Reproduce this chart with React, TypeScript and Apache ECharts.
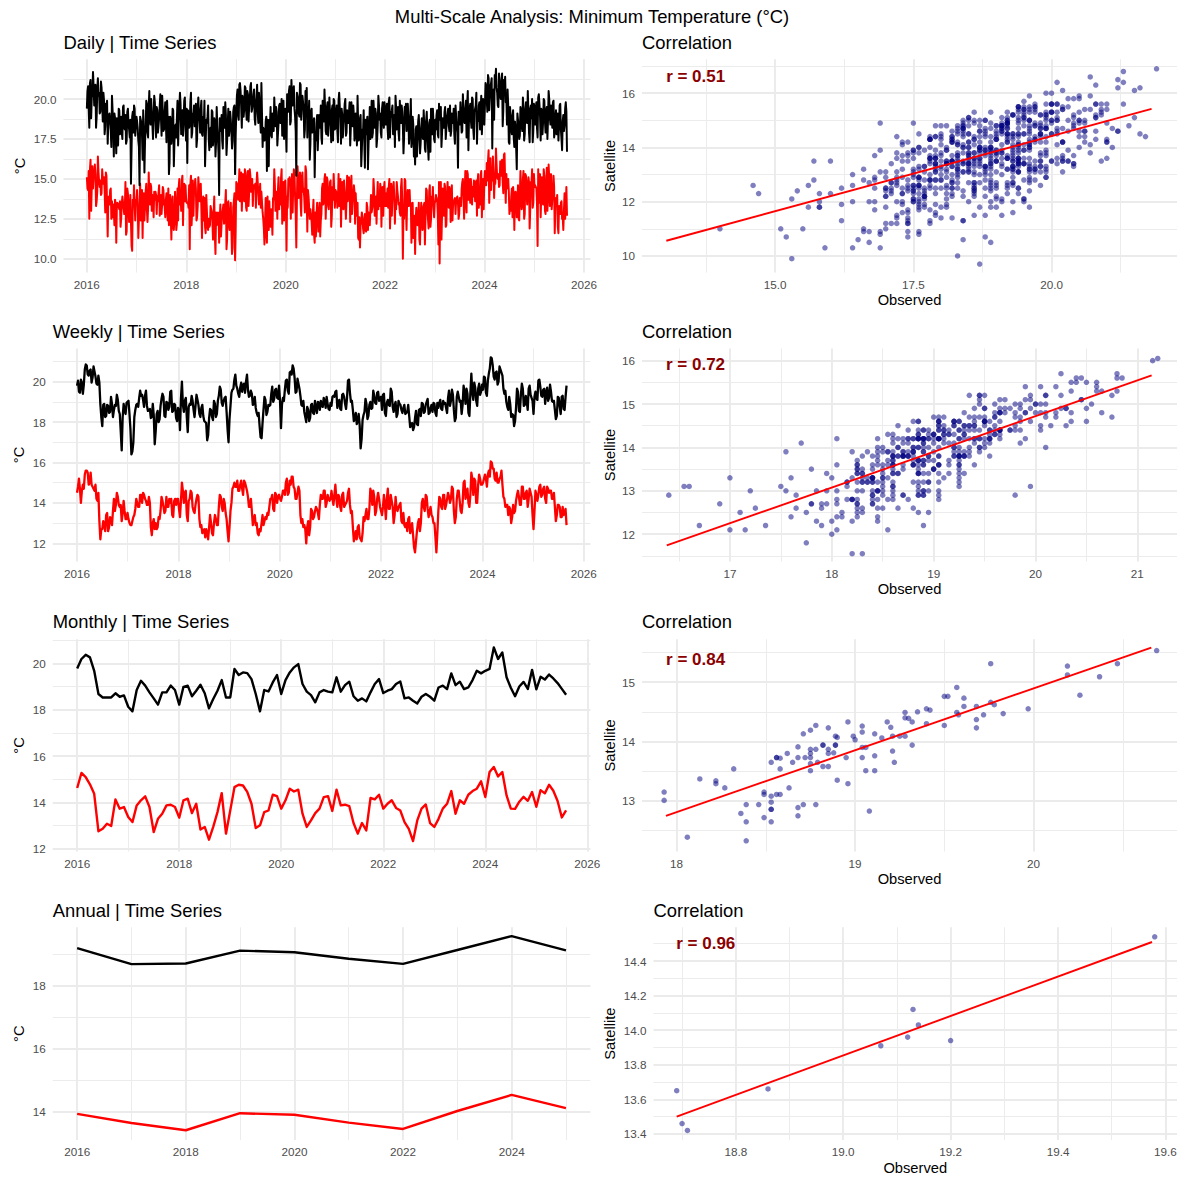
import React, { useEffect, useRef } from "react";
import * as echarts from "echarts";

// ---------------- DATA ----------------
// Daily series: values on days 0, 9, 18, ... after 2016-01-01 ...
const dailyStepDays = 9;
const dailyObserved = [
  19.4, 20.8, 18.2, 21.2, 20.1, 21.7, 19.6, 20.9, 18.9, 21.3, 20.4, 19.2, 20.7, 18.6, 19.9, 18.3, 19.5, 17.2, 19.0, 18.6, 17.0, 19.3, 16.4, 18.8, 16.6, 18.2, 19.4, 17.8, 18.9, 17.5, 19.6, 18.1, 17.2, 19.2, 18.4, 17.6, 14.7, 18.9, 17.9, 19.4, 18.3,
  18.6, 17.4, 14.6, 18.9, 17.8, 19.3, 15.4, 18.2, 19.7, 17.6, 20.5, 18.4, 19.1, 17.5, 20.2, 18.7, 19.5, 17.9, 18.8, 20.3, 17.7, 19.2, 18.1, 19.8, 17.3, 18.6, 15.3, 18.9, 17.2, 19.4, 15.8, 18.3, 17.6, 19.9, 18.5, 20.4, 17.8, 19.3, 18.7, 20.1, 17.4,
  16.0, 19.2, 18.4, 20.4, 17.9, 19.0, 18.3, 19.7, 17.5, 20.1, 18.6, 19.4, 17.8, 18.9, 19.9, 17.3, 18.5, 19.6, 16.8, 18.2, 19.3, 17.1, 18.8, 16.4, 19.5, 17.6, 14.0, 18.1, 19.0, 16.9, 18.6, 19.8, 16.5, 18.4, 17.7, 19.2, 18.0, 17.4, 19.5, 15.3,
  19.1, 20.6, 18.7, 21.0, 19.5, 20.2, 18.9, 20.8, 19.3, 20.5, 18.6, 19.9, 21.0, 19.4, 20.3, 18.8, 19.7, 20.9, 18.5, 19.6, 17.9, 19.0, 18.2, 17.4, 18.6, 15.5, 17.3, 18.7, 19.5, 17.6, 18.9, 20.1, 18.3, 19.2, 17.8, 19.6, 18.5, 20.0, 18.9, 17.5, 19.4,
  16.7, 19.3, 20.5, 18.4, 21.2, 19.6, 20.8, 18.9, 15.2, 20.4, 19.1, 21.0, 18.7, 20.2, 19.4, 18.1, 19.7, 17.6, 18.8, 16.2, 19.2, 17.9, 18.5, 15.1, 17.4, 19.0, 16.8, 18.6, 19.6, 17.2, 18.9, 20.6, 18.0, 19.5, 17.7, 20.1, 18.6, 19.3, 17.4, 19.9,
  18.2, 19.6, 17.3, 20.4, 18.8, 19.4, 17.6, 18.9, 20.0, 17.9, 19.2, 18.5, 17.1, 19.8, 18.3, 19.0, 17.7, 18.6, 20.2, 17.4, 18.8, 15.8, 18.1, 19.3, 15.7, 17.8, 18.9, 17.2, 19.5, 18.4, 17.6, 19.9, 18.2, 19.1, 17.5, 20.2, 18.7, 17.9, 19.4, 18.6, 19.8,
  18.4, 19.7, 17.5, 20.1, 18.8, 19.3, 17.8, 19.0, 20.2, 18.1, 19.5, 17.4, 18.9, 19.6, 18.3, 17.6, 19.2, 18.0, 19.7, 17.2, 18.5, 17.0, 18.9, 16.4, 15.9, 18.3, 17.5, 19.0, 16.6, 18.2, 17.7, 19.3, 16.9, 18.6, 17.9, 16.2, 18.7, 19.4, 17.8, 18.5, 17.3,
  18.1, 19.3, 17.6, 18.7, 19.5, 17.9, 18.4, 19.2, 17.5, 18.8, 19.4, 18.0, 17.7, 19.1, 18.5, 17.8, 19.6, 18.3, 15.7, 18.9, 19.8, 17.9, 20.3, 18.6, 19.4, 17.6, 20.5, 18.8, 19.7, 18.2, 20.0, 17.5, 19.2, 20.4, 18.7, 19.6, 18.1, 20.2, 19.0, 18.5,
  19.6, 20.8, 19.2, 21.3, 20.1, 21.0, 16.9, 20.6, 21.5, 21.9, 20.4, 19.5, 21.2, 20.0, 21.6, 19.3, 20.7, 19.8, 18.4, 19.6, 17.2, 18.9, 17.8, 19.3, 17.0, 18.2, 15.6, 18.7, 17.5, 19.5, 18.3, 20.1, 17.4, 19.2, 18.6, 20.5, 17.9, 19.4, 18.8, 17.3, 19.7,
  18.4, 19.8, 17.6, 20.3, 18.9, 19.4, 17.8, 20.0, 18.6, 19.2, 17.5, 20.5, 18.8, 19.6, 18.2, 19.9, 17.9, 19.3, 18.5, 17.4, 19.6, 18.1, 16.8, 19.0, 18.3, 19.8, 16.7,
];
const dailySatellite = [
  15.1, 14.3, 12.5, 16.2, 14.5, 14.4, 15.4, 15.3, 13.6, 16.4, 14.8, 14.9, 14.1, 15.0, 15.1, 12.9, 15.2, 11.4, 13.9, 14.3, 12.5, 12.6, 13.0, 13.7, 11.0, 13.5, 13.4, 13.6, 12.5, 13.9, 13.2, 13.1, 11.5, 14.4, 13.1, 12.3, 12.3, 10.5, 13.3, 13.4, 13.7,
  14.3, 11.3, 12.6, 12.4, 14.3, 13.6, 12.4, 14.2, 13.1, 13.2, 14.0, 14.7, 13.0, 13.8, 14.2, 14.2, 12.8, 13.6, 14.6, 13.5, 12.8, 14.5, 13.4, 12.6, 14.1, 12.4, 12.1, 14.0, 11.2, 13.9, 11.8, 14.2, 11.8, 14.4, 14.5, 13.4, 13.0, 15.2, 14.0, 13.6, 13.8,
  13.5, 13.2, 10.6, 15.2, 13.1, 12.7, 14.5, 14.4, 12.6, 15.1, 13.6, 14.7, 11.3, 13.9, 13.8, 11.6, 14.0, 11.8, 12.0, 13.3, 12.9, 11.2, 13.9, 10.3, 12.1, 12.9, 11.0, 13.4, 12.2, 13.1, 12.2, 13.5, 10.6, 13.5, 12.2, 12.6, 13.5, 10.7, 13.6, 9.9,
  14.8, 14.6, 14.4, 13.6, 15.4, 14.2, 14.0, 15.6, 13.2, 15.0, 13.3, 15.6, 14.2, 15.0, 14.6, 14.5, 13.2, 15.4, 14.8, 13.4, 13.2, 13.5, 12.5, 10.9, 13.8, 11.0, 12.3, 13.6, 12.0, 12.6, 13.8, 15.6, 13.0, 14.2, 14.3, 13.1, 13.4, 15.6, 14.2, 12.4, 14.9,
  10.5, 13.2, 14.9, 14.7, 14.6, 12.9, 15.6, 13.9, 10.7, 15.8, 13.8, 15.4, 12.7, 15.4, 14.4, 12.9, 15.5, 11.7, 13.9, 12.5, 12.7, 11.5, 13.7, 11.0, 11.4, 13.5, 11.7, 13.5, 12.4, 14.4, 13.4, 15.0, 12.5, 15.1, 13.3, 14.1, 14.9, 12.7, 13.7, 14.2,
  14.3, 14.1, 13.7, 13.3, 15.0, 13.8, 13.3, 14.9, 13.5, 13.7, 13.6, 15.1, 12.3, 15.2, 13.6, 14.6, 12.2, 13.1, 13.5, 11.2, 10.7, 12.3, 12.6, 11.6, 12.8, 11.7, 13.2, 12.9, 12.1, 14.0, 12.9, 15.0, 12.7, 13.9, 13.9, 13.1, 13.3, 14.4, 14.2, 12.7, 14.8,
  14.1, 13.3, 13.2, 15.0, 13.3, 12.7, 14.0, 13.8, 13.7, 14.8, 13.9, 13.5, 12.7, 15.0, 10.0, 12.5, 14.9, 11.8, 14.3, 13.6, 13.3, 11.0, 13.5, 12.0, 10.3, 13.2, 12.1, 13.5, 10.9, 13.5, 11.8, 13.3, 10.9, 14.4, 13.1, 11.9, 14.6, 12.5, 13.6, 13.2, 13.5,
  14.0, 13.7, 10.9, 9.7, 14.8, 12.8, 13.4, 14.7, 12.0, 13.8, 13.4, 14.5, 12.3, 14.6, 13.4, 13.7, 12.8, 13.8, 13.5, 12.8, 13.8, 14.4, 15.0, 12.5, 15.5, 12.9, 15.3, 15.0, 13.5, 14.3, 14.5, 14.9, 13.6, 14.9, 14.8, 13.2, 13.4, 15.5, 14.4, 13.1,
  15.5, 14.6, 14.9, 16.8, 14.7, 14.3, 14.9, 15.4, 15.1, 16.9, 15.1, 15.3, 14.6, 16.0, 16.2, 14.1, 16.6, 13.5, 14.4, 15.0, 12.8, 13.0, 14.4, 14.5, 11.8, 14.2, 12.6, 14.6, 12.4, 15.5, 13.1, 15.0, 12.5, 15.3, 14.1, 14.6, 14.8, 13.1, 14.7, 13.2, 15.3,
  14.6, 14.4, 10.8, 13.5, 15.3, 14.0, 13.6, 15.6, 13.0, 14.5, 13.0, 15.9, 13.3, 15.3, 13.7, 15.2, 11.6, 13.8, 14.0, 11.6, 13.3, 13.5, 12.5, 11.8, 14.1, 13.1, 12.7,
];
// ... and on the days in between (4.5, 13.5, 22.5, ...)
const dailyMidOffsetDays = 4.5;
const dailyObservedMid = [
  20.5, 19.4, 21.0, 18.8, 20.3, 20.8, 19.6, 18.2, 20.6, 20.2, 19.1, 21.1, 19.7, 20.4, 17.8, 19.7, 19.9, 18.5, 19.1, 18.0, 20.2, 18.3, 19.1, 17.8, 18.8, 17.1, 19.3, 18.5, 17.9, 19.5, 18.2, 19.0, 17.4, 19.4, 18.1, 18.7, 16.9, 19.2, 19.6, 17.7, 18.9,
  18.2, 17.0, 18.9, 18.5, 16.2, 18.0, 17.4, 19.9, 17.9, 19.5, 18.7, 20.0, 18.4, 19.0, 19.8, 17.6, 19.3, 18.3, 19.6, 18.8, 20.2, 18.0, 19.1, 18.5, 19.9, 18.9, 16.0, 18.6, 17.9, 19.3, 17.3, 18.4, 18.8, 17.1, 18.5, 19.7, 19.2, 17.7, 19.9, 18.3, 19.4,
  19.3, 18.2, 19.8, 17.6, 19.1, 19.6, 18.4, 17.0, 19.4, 19.0, 17.9, 19.9, 17.7, 18.4, 15.8, 18.7, 18.9, 17.5, 18.1, 17.0, 19.2, 17.8, 18.6, 17.3, 18.3, 16.6, 18.8, 18.0, 17.4, 19.5, 18.2, 19.0, 17.4, 19.4, 18.1, 18.7, 16.9, 19.2, 19.6, 17.7,
  20.2, 19.0, 20.9, 20.5, 18.2, 20.0, 19.4, 20.7, 18.7, 20.3, 19.5, 20.8, 19.2, 19.8, 20.6, 18.4, 20.1, 19.1, 20.4, 19.6, 21.0, 17.0, 18.1, 17.5, 18.9, 18.7, 15.8, 18.4, 17.7, 19.1, 18.0, 19.1, 19.5, 17.1, 18.5, 19.7, 19.2, 17.7, 19.9, 18.3, 19.4,
  20.3, 19.2, 20.8, 18.6, 20.1, 20.6, 19.4, 18.0, 20.4, 20.0, 18.9, 20.9, 19.5, 20.2, 17.6, 20.5, 20.7, 19.3, 19.9, 17.2, 19.4, 18.0, 18.8, 17.5, 18.5, 16.8, 19.0, 18.2, 17.6, 19.9, 18.6, 19.4, 17.8, 19.8, 18.5, 19.1, 17.3, 19.6, 20.0, 18.1,
  19.2, 18.0, 19.9, 19.5, 17.2, 19.0, 18.4, 19.7, 17.7, 19.3, 18.5, 19.8, 18.2, 18.8, 19.6, 17.4, 19.1, 17.1, 18.4, 17.6, 19.0, 16.8, 17.9, 17.3, 18.7, 18.5, 15.6, 18.2, 17.5, 19.9, 17.9, 19.0, 19.4, 17.0, 18.4, 19.6, 19.1, 17.6, 19.8, 18.2, 19.3,
  19.3, 18.2, 19.8, 17.6, 19.1, 19.6, 18.4, 17.0, 19.4, 19.0, 17.9, 19.9, 18.5, 19.2, 16.6, 19.5, 19.7, 18.3, 18.9, 17.8, 20.0, 17.6, 18.4, 17.1, 18.1, 16.4, 18.6, 17.8, 17.2, 18.8, 17.5, 18.3, 16.7, 19.2, 17.9, 18.5, 16.7, 19.0, 19.4, 17.5, 18.7,
  19.0, 17.8, 19.7, 19.3, 17.0, 18.8, 18.2, 19.5, 17.5, 19.1, 18.3, 19.6, 18.0, 18.6, 19.4, 17.2, 18.9, 17.9, 19.2, 18.4, 19.8, 18.0, 19.1, 18.5, 19.9, 19.7, 16.8, 19.4, 18.7, 20.1, 18.1, 19.2, 19.6, 17.2, 18.6, 19.8, 19.3, 17.8, 20.0, 18.4,
  21.0, 19.9, 21.5, 19.3, 20.8, 21.3, 20.1, 18.7, 21.1, 20.7, 19.6, 21.6, 20.2, 20.9, 18.3, 21.2, 21.4, 20.0, 20.6, 17.3, 19.5, 18.1, 18.9, 17.6, 18.6, 16.9, 19.1, 18.3, 17.7, 19.3, 18.0, 19.4, 17.8, 19.8, 18.5, 19.1, 17.3, 19.6, 20.0, 18.1, 19.3,
  19.4, 18.2, 20.1, 19.7, 17.4, 19.2, 18.6, 19.9, 17.9, 19.5, 18.7, 20.0, 18.4, 19.0, 19.8, 17.6, 18.8, 17.8, 19.1, 18.3, 19.7, 17.5, 18.6, 18.0, 19.4, 19.2,
];
const dailySatelliteMid = [
  14.4, 15.5, 15.6, 13.0, 15.8, 15.1, 15.9, 13.3, 14.2, 15.4, 14.5, 14.0, 15.6, 14.7, 14.3, 15.4, 13.3, 13.8, 13.4, 14.4, 13.6, 13.4, 12.1, 13.5, 13.3, 13.4, 13.1, 12.0, 13.4, 13.9, 12.8, 14.8, 11.7, 14.1, 12.3, 14.0, 10.8, 13.7, 14.6, 12.4, 13.4,
  13.5, 12.5, 14.7, 13.8, 11.3, 14.1, 12.4, 14.7, 12.3, 15.4, 13.4, 14.5, 14.0, 12.6, 13.7, 14.0, 13.9, 14.1, 12.7, 14.0, 13.5, 14.3, 13.3, 13.7, 13.2, 14.4, 12.3, 12.7, 13.6, 12.0, 12.5, 13.4, 12.2, 12.4, 15.0, 14.2, 14.9, 12.1, 14.7, 14.6, 13.5,
  13.5, 14.6, 14.7, 12.1, 14.9, 14.2, 15.0, 12.4, 13.3, 14.5, 13.6, 13.1, 13.3, 12.4, 12.0, 14.0, 12.0, 12.5, 12.1, 13.1, 12.3, 12.8, 11.5, 12.9, 12.7, 12.8, 12.5, 11.4, 12.8, 13.4, 12.3, 14.3, 11.2, 13.6, 11.8, 13.5, 10.3, 13.2, 14.1, 11.9,
  14.7, 13.7, 15.6, 15.0, 13.0, 15.3, 13.6, 15.4, 13.0, 15.5, 14.1, 15.2, 14.7, 13.3, 14.4, 14.7, 14.6, 14.8, 13.4, 14.7, 14.2, 12.9, 11.9, 12.3, 11.8, 13.9, 11.8, 12.2, 13.1, 11.5, 13.7, 14.6, 13.4, 12.5, 15.1, 14.3, 15.0, 12.2, 14.8, 14.7, 13.6,
  13.9, 15.0, 15.1, 12.5, 15.3, 14.6, 15.4, 12.8, 13.7, 14.9, 14.0, 13.5, 15.1, 14.2, 13.8, 15.8, 13.8, 14.3, 13.9, 13.1, 12.3, 12.8, 11.5, 12.9, 12.7, 12.8, 12.5, 11.4, 12.8, 14.7, 13.6, 15.3, 12.5, 14.9, 13.1, 14.8, 12.0, 14.5, 15.3, 13.2,
  14.2, 13.2, 15.3, 14.5, 12.0, 14.8, 13.1, 14.9, 12.5, 15.2, 13.6, 14.7, 14.2, 12.8, 13.9, 14.2, 14.1, 12.7, 11.3, 12.6, 12.1, 12.9, 11.9, 12.3, 11.8, 13.5, 11.8, 12.2, 13.1, 12.9, 13.4, 14.3, 13.1, 12.2, 14.8, 14.0, 14.7, 12.0, 14.5, 14.4, 13.3,
  13.3, 14.4, 14.5, 11.9, 14.7, 14.0, 14.8, 12.2, 13.1, 14.3, 13.4, 12.9, 14.5, 13.6, 13.2, 15.0, 13.2, 13.7, 13.3, 14.3, 13.5, 12.6, 11.3, 12.7, 12.5, 12.6, 12.3, 11.2, 12.6, 13.1, 12.0, 13.5, 10.9, 14.3, 12.5, 14.2, 12.0, 13.9, 14.5, 12.6, 13.6,
  13.8, 12.8, 14.8, 14.0, 11.2, 14.4, 12.7, 14.5, 12.1, 14.8, 13.2, 14.3, 13.8, 12.4, 13.5, 13.8, 13.7, 13.9, 12.5, 13.8, 13.3, 14.8, 13.8, 14.2, 13.7, 15.5, 13.7, 14.1, 15.0, 13.4, 13.9, 14.8, 13.6, 12.7, 15.3, 14.5, 15.2, 12.6, 15.0, 14.9,
  14.9, 16.0, 16.1, 13.5, 16.3, 15.6, 16.4, 13.8, 14.7, 15.9, 15.0, 14.5, 16.1, 15.2, 14.8, 16.5, 14.8, 15.3, 14.9, 14.2, 13.4, 13.9, 12.6, 14.0, 13.8, 13.9, 13.6, 12.5, 13.9, 14.4, 13.3, 15.5, 12.8, 15.2, 13.4, 15.1, 11.9, 14.8, 15.6, 13.5, 14.5,
  14.5, 13.5, 15.6, 14.8, 12.6, 15.1, 13.4, 15.2, 12.8, 15.7, 13.9, 15.0, 14.5, 13.1, 14.2, 14.5, 13.2, 13.4, 12.0, 13.3, 12.8, 13.6, 12.6, 13.0, 12.5, 14.5,
];

// Weekly series: values every 14 days from 2016-01-01 ...
const weeklyStepDays = 14;
const weeklyObserved = [
  19.8, 19.5, 20.1, 19.4, 20.6, 20.8, 20.3, 20.6, 20.2, 20.5, 19.9, 20.3, 18.9, 17.8, 18.9, 18.3, 18.8, 18.5, 18.9, 18.6, 18.8, 19.1, 18.4, 16.6, 18.9, 18.4, 19.0,
  18.4, 16.4, 17.0, 18.6, 18.9, 19.2, 19.3, 19.1, 19.3, 18.8, 18.6, 18.2, 18.9, 16.9, 18.4, 18.0, 18.8, 19.4, 18.3, 19.0, 18.6, 19.5, 18.5, 18.9, 18.2, 18.7,
  17.6, 20.0, 18.5, 19.2, 17.5, 18.9, 19.3, 18.6, 18.8, 19.1, 18.4, 18.7, 18.3, 18.0, 17.1, 18.2, 18.6, 18.1, 18.9, 18.4, 19.3, 19.6, 18.8, 19.2, 18.5, 17.0,
  18.8, 19.6, 20.1, 19.8, 19.4, 19.7, 19.5, 19.9, 20.0, 19.6, 19.3, 19.4, 18.9, 18.7, 18.3, 17.8, 17.2, 18.6, 19.1, 18.5, 18.8, 19.4, 19.0, 19.6, 19.2, 19.8,
  17.7, 19.2, 19.6, 20.1, 19.4, 20.5, 20.8, 20.2, 19.5, 19.9, 19.3, 18.8, 18.5, 18.0, 18.6, 18.2, 18.9, 18.4, 18.7, 19.0, 18.6, 18.8, 19.2, 18.7, 18.9, 18.6,
  18.8, 19.3, 19.5, 18.7, 19.1, 18.6, 19.4, 18.9, 19.2, 20.1, 19.0, 18.6, 18.2, 17.9, 18.4, 16.7, 18.1, 18.5, 18.9, 18.3, 19.0, 18.7, 19.3, 18.9, 19.5, 19.2,
  18.6, 19.4, 18.3, 19.1, 18.8, 19.5, 18.5, 19.0, 18.4, 18.9, 18.6, 18.7, 18.4, 18.5, 18.3, 17.9, 17.6, 18.2, 17.9, 18.6, 18.3, 18.9, 18.5, 19.0, 18.4, 18.7,
  18.5, 18.9, 18.3, 18.7, 19.1, 18.6, 18.9, 18.7, 19.2, 18.8, 19.6, 18.6, 18.2, 19.5, 19.0, 18.4, 19.8, 18.9, 19.4, 18.3, 20.4, 19.1, 19.7, 18.8, 19.9, 19.5,
  19.6, 20.2, 19.3, 20.4, 21.2, 20.8, 20.1, 20.5, 20.0, 20.6, 20.3, 19.4, 19.0, 18.6, 18.9, 18.4, 17.8, 18.7, 19.5, 18.5, 19.9, 18.8, 19.3, 18.6, 19.8, 19.2,
  18.4, 19.5, 19.1, 20.1, 19.3, 19.6, 18.9, 19.7, 19.2, 19.5, 19.0, 18.6, 18.3, 19.2, 18.4, 19.3, 18.6, 19.8,
];
const weeklySatellite = [
  14.5, 15.2, 14.0, 14.9, 15.4, 15.6, 14.9, 15.5, 14.8, 14.6, 14.2, 14.5, 12.2, 12.7, 12.9, 13.4, 12.6, 13.3, 12.9, 14.2, 13.9, 14.3, 13.8, 13.1, 14.1, 13.2, 13.5,
  13.0, 12.9, 13.3, 13.7, 14.0, 13.8, 14.4, 14.5, 14.2, 13.9, 14.3, 12.8, 13.0, 12.7, 12.7, 13.3, 13.6, 14.1, 13.5, 14.3, 13.8, 14.0, 13.4, 14.1, 13.9, 14.2,
  13.3, 15.0, 14.0, 14.6, 13.1, 14.2, 14.5, 13.6, 13.9, 14.4, 13.2, 12.9, 12.6, 12.3, 12.5, 12.8, 13.0, 12.4, 13.4, 12.9, 13.8, 14.3, 13.6, 14.0, 13.2, 12.1,
  13.6, 14.7, 15.0, 14.8, 14.6, 14.9, 14.7, 15.1, 14.8, 14.3, 13.8, 13.6, 13.2, 12.9, 12.5, 12.7, 13.0, 12.9, 13.3, 13.5, 13.8, 14.2, 13.7, 14.5, 14.0, 14.4,
  14.1, 14.6, 14.4, 15.2, 14.5, 14.9, 15.3, 14.7, 14.2, 14.8, 13.4, 13.2, 12.9, 12.0, 13.1, 12.8, 13.6, 13.3, 13.8, 13.5, 13.9, 14.2, 14.6, 13.8, 14.4, 14.1,
  14.6, 13.9, 14.9, 13.8, 14.3, 13.6, 14.5, 13.9, 14.1, 14.7, 13.5, 12.8, 12.3, 12.2, 12.9, 12.2, 12.5, 13.1, 13.7, 13.2, 14.7, 13.9, 14.3, 13.6, 14.5, 13.8,
  13.4, 14.4, 13.2, 14.7, 13.7, 14.1, 13.0, 14.3, 13.6, 13.9, 13.1, 13.5, 12.8, 12.6, 13.3, 12.7, 12.4, 11.55, 12.6, 13.2, 13.0, 14.2, 13.6, 14.3, 13.3, 13.8,
  13.3, 13.0, 11.55, 13.6, 14.2, 13.7, 14.4, 13.9, 14.5, 14.0, 14.8, 13.6, 13.3, 14.6, 14.1, 13.5, 15.0, 14.2, 14.7, 13.8, 15.5, 14.4, 15.1, 14.0, 15.4, 14.9,
  15.0, 15.4, 14.8, 15.6, 16.05, 15.7, 15.2, 15.5, 15.0, 15.3, 14.9, 14.2, 13.9, 13.4, 13.7, 13.3, 13.5, 14.1, 14.6, 13.9, 14.8, 14.2, 14.5, 13.8, 14.7, 14.3,
  12.7, 14.6, 14.1, 14.8, 14.3, 14.7, 14.2, 14.8, 14.5, 14.6, 14.2, 13.8, 13.4, 13.9, 13.3, 13.8, 13.5, 12.9,
];
// ... and the weeks in between (7, 21, 35, ... days)
const weeklyMidOffsetDays = 7;
const weeklyObservedMid = [
  20.05, 19.45, 19.95, 19.85, 20.85, 20.35, 20.55, 19.95, 20.75, 20.25, 19.85, 19.95, 18.25, 18.85, 18.25, 18.85, 18.45, 19.25, 18.25, 18.85, 19.35, 18.55, 17.55, 18.25, 18.55, 18.95, 19.05,
  17.65, 16.55, 18.25, 18.85, 18.75, 19.55, 19.35, 18.75, 19.55, 18.55, 18.65, 18.25, 18.35, 17.55, 18.55, 18.15, 19.15, 19.25, 18.25, 18.95, 18.75, 19.55, 18.55, 18.85, 18.05, 18.55,
  19.15, 18.85, 19.05, 18.25, 18.75, 18.85, 19.05, 18.25, 19.35, 18.85, 18.25, 18.85, 18.05, 17.95, 17.35, 18.65, 18.25, 19.05, 18.25, 19.05, 19.75, 18.95, 19.05, 19.25, 17.65, 18.15,
  19.45, 19.65, 20.35, 19.65, 19.25, 19.95, 19.85, 19.45, 20.35, 19.25, 19.55, 18.85, 19.25, 18.45, 18.45, 17.25, 17.95, 19.25, 18.35, 18.85, 18.85, 19.75, 19.15, 19.65, 19.15, 19.05,
  18.85, 19.05, 20.05, 19.55, 20.45, 20.35, 20.65, 19.45, 20.15, 19.65, 18.85, 19.05, 18.25, 18.75, 18.05, 18.85, 18.45, 19.05, 18.45, 18.95, 19.05, 18.75, 19.05, 19.25, 18.65, 18.95,
  19.25, 19.25, 19.55, 18.95, 18.65, 19.35, 19.25, 18.65, 20.05, 19.45, 19.05, 18.05, 18.45, 18.05, 17.85, 17.15, 18.35, 19.15, 18.15, 18.85, 18.65, 19.55, 18.95, 19.45, 19.05, 19.25,
  19.35, 18.45, 18.95, 18.85, 19.65, 18.75, 18.85, 18.25, 19.05, 18.85, 18.45, 18.85, 18.45, 18.85, 17.75, 17.95, 17.75, 18.55, 17.85, 18.65, 18.95, 18.45, 18.85, 19.15, 18.45, 18.85,
  18.95, 18.45, 18.95, 18.95, 18.65, 19.05, 18.95, 18.45, 19.55, 19.05, 19.35, 18.05, 19.25, 19.25, 19.05, 18.85, 19.45, 19.65, 18.45, 19.45, 19.45, 19.95, 19.05, 19.65, 19.35, 19.85,
  20.25, 19.45, 20.05, 20.65, 21.15, 20.25, 20.45, 19.85, 20.75, 20.45, 19.65, 19.55, 18.75, 19.25, 18.25, 18.35, 18.05, 19.65, 18.55, 19.35, 19.65, 18.85, 19.05, 19.65, 19.35, 19.05,
  19.25, 19.15, 20.05, 19.75, 19.25, 19.65, 19.45, 19.05, 19.85, 19.05, 19.05, 18.15, 19.25, 18.75, 19.25, 18.65, 19.25,
];
const weeklySatelliteMid = [
  14.8, 14.7, 14.6, 14.7, 15.6, 15.5, 15.0, 14.9, 14.7, 14.9, 14.1, 13.1, 12.7, 13.1, 12.6, 13.5, 12.8, 13.2, 13.6, 13.6, 14.5, 13.9, 13.9, 13.5, 13.6, 13.2, 13.2,
  12.9, 13.1, 13.4, 14.2, 13.8, 14.4, 14.0, 14.4, 14.1, 13.9, 14.0, 12.4, 13.2, 13.0, 12.8, 13.2, 14.3, 13.8, 13.6, 13.8, 14.2, 14.2, 13.3, 14.2, 14.2, 13.7,
  14.1, 14.6, 14.5, 13.4, 14.1, 14.6, 13.8, 13.5, 14.2, 14.3, 12.8, 12.5, 12.7, 12.7, 12.2, 13.4, 12.5, 13.0, 13.2, 12.9, 14.4, 13.8, 14.2, 13.5, 12.6, 12.8,
  14.0, 14.8, 14.8, 15.1, 14.6, 15.1, 14.4, 15.0, 14.6, 13.8, 14.2, 12.9, 13.4, 13.0, 12.4, 12.6, 13.4, 13.1, 13.2, 13.4, 14.2, 14.4, 13.6, 14.4, 14.3, 14.2,
  14.3, 14.6, 15.0, 14.4, 15.1, 15.3, 14.8, 14.2, 14.5, 14.6, 13.0, 12.8, 12.7, 12.8, 12.4, 13.7, 13.2, 13.6, 13.7, 13.2, 14.4, 14.2, 14.6, 14.0, 14.2, 14.2,
  14.2, 14.4, 14.2, 14.4, 13.8, 14.4, 13.8, 14.0, 14.5, 13.9, 13.6, 12.1, 12.6, 12.8, 12.3, 12.1, 13.3, 13.4, 13.2, 13.7, 14.5, 14.6, 13.4, 14.2, 14.2, 13.6,
  13.8, 13.9, 14.2, 13.7, 14.4, 13.8, 13.4, 13.7, 13.8, 14.0, 13.0, 12.9, 13.0, 13.2, 12.5, 13.0, 11.8, 12.1, 13.0, 12.6, 14.0, 13.8, 14.4, 13.7, 13.6, 13.4,
  13.0, 12.3, 12.5, 14.3, 13.8, 14.4, 13.7, 14.2, 14.3, 14.2, 14.7, 13.0, 14.2, 14.6, 13.6, 14.0, 15.1, 14.4, 14.0, 14.4, 15.2, 15.2, 14.0, 14.9, 15.2, 14.9,
  15.2, 15.2, 15.4, 15.3, 16.0, 15.7, 15.1, 15.0, 15.2, 15.6, 14.3, 13.8, 13.9, 13.8, 13.0, 13.9, 13.6, 14.4, 14.3, 13.9, 14.8, 14.2, 14.6, 14.2, 14.5, 13.4,
  13.6, 14.4, 14.4, 14.9, 14.4, 14.8, 14.0, 14.7, 14.6, 14.2, 14.5, 13.1, 13.9, 13.8, 13.3, 13.4, 13.7,
];

// Monthly series (Jan 2016 .. Aug 2025)
const monthlyObserved = [
  19.78, 20.19, 20.37, 20.26, 19.68, 18.68, 18.53, 18.53, 18.53, 18.71, 18.56, 18.62,
  18.13, 17.93, 18.85, 19.25, 19.04, 18.75, 18.49, 18.22, 18.75, 18.75, 19.04, 18.85,
  18.22, 18.99, 19.04, 18.58, 18.82, 19.08, 18.71, 18.06, 18.46, 18.82, 19.28, 18.53,
  18.53, 19.76, 19.50, 19.61, 19.58, 19.32, 18.68, 17.93, 18.85, 18.79, 19.18, 19.50,
  18.68, 19.28, 19.61, 19.83, 19.97, 19.11, 18.78, 18.63, 18.32, 18.75, 18.85, 18.78,
  18.75, 19.40, 18.78, 19.06, 19.21, 18.58, 18.39, 18.49, 18.36, 18.75, 19.11, 19.32,
  18.72, 18.82, 18.89, 19.11, 19.22, 18.49, 18.53, 18.39, 18.27, 18.56, 18.68, 18.56,
  18.39, 18.96, 19.04, 18.89, 19.57, 19.06, 19.21, 18.89, 18.96, 19.28, 19.68, 19.57,
  19.68, 19.76, 20.69, 20.19, 20.47, 19.40, 18.95, 18.58, 19.00, 19.20, 18.90, 19.72,
  18.88, 19.42, 19.30, 19.52, 19.35, 19.15, 18.90, 18.65,
];
const monthlySatellite = [
  14.62, 15.27, 15.09, 14.78, 14.37, 12.75, 12.86, 13.08, 12.98, 14.13, 13.73, 13.80,
  13.37, 13.15, 13.87, 14.09, 14.26, 13.80, 12.72, 13.29, 13.51, 13.87, 13.90, 13.80,
  13.34, 14.09, 14.16, 13.54, 13.94, 12.83, 12.94, 12.39, 12.94, 13.58, 14.40, 12.65,
  13.65, 14.66, 14.76, 14.73, 14.45, 13.94, 12.89, 13.01, 13.58, 13.65, 14.33, 14.27,
  13.73, 14.09, 14.59, 14.47, 14.55, 13.51, 12.94, 13.22, 13.54, 13.73, 14.23, 14.27,
  13.63, 14.55, 13.87, 13.90, 13.84, 13.11, 12.65, 13.11, 12.79, 14.19, 14.13, 14.33,
  13.73, 13.94, 14.09, 13.76, 13.65, 13.15, 12.86, 12.33, 13.22, 13.73, 13.91, 13.11,
  12.94, 13.29, 13.73, 13.94, 14.49, 13.51, 14.09, 13.94, 14.33, 14.49, 14.59, 14.91,
  14.23, 15.31, 15.53, 15.12, 15.31, 14.30, 13.73, 13.72, 14.03, 14.24, 14.07, 14.45,
  13.81, 14.53, 14.39, 14.76, 14.50, 14.06, 13.35, 13.65,
];

// Annual series
const annualYears = [2016, 2017, 2018, 2019, 2020, 2021, 2022, 2023, 2024, 2025];
const annualObserved = [19.2, 18.69, 18.71, 19.12, 19.07, 18.86, 18.7, 19.14, 19.58, 19.13];
const annualSatellite = [13.94, 13.65, 13.42, 13.96, 13.91, 13.66, 13.46, 14.03, 14.54, 14.12];

// Fitted regression lines [observed, satellite] at both ends of the observed range
const dailyFit = [[13.03, 10.56], [21.81, 15.42]];
const weeklyFit = [[16.38, 11.74], [21.14, 15.66]];
const monthlyFit = [[17.94, 12.75], [20.66, 15.58]];
const annualFit = [[18.69, 13.5], [19.575, 14.51]];

const correlationLabels = ["r = 0.51", "r = 0.72", "r = 0.84", "r = 0.96"];
const scaleNames = ["Daily", "Weekly", "Monthly", "Annual"];
const mainTitle = "Multi-Scale Analysis: Minimum Temperature (°C)";

// ---------------- LAYOUT / STYLE ----------------
const FONT = "'Liberation Sans', Arial, Helvetica, sans-serif";
const GRID_COLOR = "#EBEBEB";
const TICK_COLOR = "#4D4D4D";
const TITLE_SIZE = 18.4;

const rowTops = [59.3, 348.5, 639.3, 927.3];
const rowBottoms = [272.5, 561.5, 851.5, 1140];
const titleCenters = [42.7, 331.7, 621, 910];
const leftLefts = [63.5, 52.7, 52.7, 52.7];
const rightLefts = [642, 642, 642, 653.5];
const LEFT_RIGHT = 590.4;
const RIGHT_RIGHT = 1177;

interface AxisSpec { min: number; max: number; start: number; step: number; dec: number }
const tsX: AxisSpec[] = [
  { min: 2015.53, max: 2026.13, start: 2016, step: 2, dec: 0 },
  { min: 2015.52, max: 2026.13, start: 2016, step: 2, dec: 0 },
  { min: 2015.52, max: 2026.06, start: 2016, step: 2, dec: 0 },
  { min: 2015.55, max: 2025.45, start: 2016, step: 2, dec: 0 },
];
const tsY: AxisSpec[] = [
  { min: 9.14, max: 22.49, start: 10, step: 2.5, dec: 1 },
  { min: 11.1, max: 21.64, start: 12, step: 2, dec: 0 },
  { min: 11.88, max: 21.04, start: 12, step: 2, dec: 0 },
  { min: 13.11, max: 19.86, start: 14, step: 2, dec: 0 },
];
const scX: AxisSpec[] = [
  { min: 12.59, max: 22.27, start: 12.5, step: 2.5, dec: 1 },
  { min: 16.137, max: 21.389, start: 17, step: 1, dec: 0 },
  { min: 17.806, max: 20.804, start: 18, step: 1, dec: 0 },
  { min: 18.6468, max: 19.6215, start: 18.8, step: 0.2, dec: 1 },
];
const scY: AxisSpec[] = [
  { min: 9.39, max: 17.25, start: 10, step: 2, dec: 0 },
  { min: 11.37, max: 16.28, start: 12, step: 1, dec: 0 },
  { min: 12.15, max: 15.72, start: 13, step: 1, dec: 0 },
  { min: 13.365, max: 14.595, start: 13.4, step: 0.2, dec: 1 },
];
// r label anchor (data units) per correlation panel
const rLabelAnchor = [[13.57, 16.61], [16.667, 15.9], [18.109, 15.38], [18.745, 14.5]];

function stepValues(start: number, end: number, step: number): number[] {
  const out: number[] = [];
  for (let i = 0; i < 200; i++) {
    const v = +(start + i * step).toFixed(6);
    if (v > end + 1e-9) break;
    out.push(v);
  }
  return out;
}
function majors(a: AxisSpec) {
  return stepValues(a.start, a.max, a.step).filter((v) => v >= a.min - 1e-9);
}
function minors(a: AxisSpec) {
  return stepValues(a.start - a.step / 2, a.max, a.step).filter((v) => v >= a.min - 1e-9);
}

interface Series3 { x: number[]; obs: number[]; sat: number[] }
function interleave(
  obs: number[], sat: number[], obsMid: number[], satMid: number[], stepDays: number, midOffset: number
): Series3 {
  const out: Series3 = { x: [], obs: [], sat: [] };
  const n = Math.min(obs.length, sat.length);
  const m = Math.min(obsMid.length, satMid.length);
  for (let k = 0; k < n; k++) {
    out.x.push(2016 + (k * stepDays) / 365.25); out.obs.push(obs[k]); out.sat.push(sat[k]);
    if (k < m) {
      out.x.push(2016 + (k * stepDays + midOffset) / 365.25); out.obs.push(obsMid[k]); out.sat.push(satMid[k]);
    }
  }
  return out;
}
function seriesForRow(row: number): Series3 {
  if (row === 0) return interleave(dailyObserved, dailySatellite, dailyObservedMid, dailySatelliteMid, dailyStepDays, dailyMidOffsetDays);
  if (row === 1) return interleave(weeklyObserved, weeklySatellite, weeklyObservedMid, weeklySatelliteMid, weeklyStepDays, weeklyMidOffsetDays);
  const out: Series3 = { x: [], obs: [], sat: [] };
  if (row === 2) {
    const n = Math.min(monthlyObserved.length, monthlySatellite.length);
    for (let k = 0; k < n; k++) { out.x.push(2016 + k / 12); out.obs.push(monthlyObserved[k]); out.sat.push(monthlySatellite[k]); }
  } else {
    for (let k = 0; k < annualYears.length; k++) { out.x.push(annualYears[k]); out.obs.push(annualObserved[k]); out.sat.push(annualSatellite[k]); }
  }
  return out;
}

function buildOption() {
  const grid: any[] = [];
  const xAxis: any[] = [];
  const yAxis: any[] = [];
  const series: any[] = [];
  const graphic: any[] = [];

  graphic.push({
    type: "text", x: 592, y: 16, silent: true,
    style: { text: mainTitle, fill: "#000", fontSize: TITLE_SIZE, fontFamily: FONT, align: "center", verticalAlign: "middle", textAlign: "center", textVerticalAlign: "middle" },
  });

  const addPanel = (
    row: number, l: number, r: number,
    xs: AxisSpec, ys: AxisSpec, xName: string, yName: string, xNameGap: number, yNameGap: number,
    title: string
  ) => {
    const idx = grid.length;
    const t = rowTops[row];
    const b = rowBottoms[row];
    grid.push({ left: l, top: t, width: r - l, height: b - t, containLabel: false, outerBoundsMode: "none" });
    const label = (dec: number) => ({
      color: TICK_COLOR, fontSize: 11.7, fontFamily: FONT,
      formatter: (v: number) => v.toFixed(dec),
    });
    xAxis.push({
      type: "value", gridIndex: idx, min: xs.min, max: xs.max,
      axisLine: { show: false, onZero: false }, axisTick: { show: false }, splitLine: { show: false },
      axisLabel: { ...label(xs.dec), margin: 5.5, customValues: majors(xs) },
      name: xName, nameLocation: "middle", nameGap: xNameGap, nameMoveOverlap: false,
      nameTextStyle: { color: "#000", fontSize: 14.7, fontFamily: FONT },
    });
    yAxis.push({
      type: "value", gridIndex: idx, min: ys.min, max: ys.max,
      axisLine: { show: false, onZero: false }, axisTick: { show: false }, splitLine: { show: false },
      axisLabel: { ...label(ys.dec), margin: 7, customValues: majors(ys) },
      name: yName, nameLocation: "middle", nameGap: yNameGap, nameMoveOverlap: false,
      nameTextStyle: { color: "#000", fontSize: 14.7, fontFamily: FONT },
    });
    const major = { color: GRID_COLOR, width: 1.9, type: "solid" };
    const minor = { color: GRID_COLOR, width: 0.95, type: "solid" };
    const lines = [
      ...minors(xs).map((v) => ({ xAxis: v, lineStyle: minor })),
      ...minors(ys).map((v) => ({ yAxis: v, lineStyle: minor })),
      ...majors(xs).map((v) => ({ xAxis: v, lineStyle: major })),
      ...majors(ys).map((v) => ({ yAxis: v, lineStyle: major })),
    ];
    series.push({
      type: "line", xAxisIndex: idx, yAxisIndex: idx, z: 1, silent: true,
      data: [[xs.min, ys.min]], showSymbol: false, symbol: "none", lineStyle: { width: 0, opacity: 0 },
      markLine: { z: 1, silent: true, symbol: ["none", "none"], label: { show: false }, animation: false, data: lines },
    });
    graphic.push({
      type: "text", x: l, y: titleCenters[row], silent: true,
      style: { text: title, fill: "#000", fontSize: TITLE_SIZE, fontFamily: FONT, align: "left", verticalAlign: "middle", textAlign: "left", textVerticalAlign: "middle" },
    });
    return idx;
  };

  const fits = [dailyFit, weeklyFit, monthlyFit, annualFit];
  const leftNameGap = [36, 26, 26, 26];
  const rightNameGap = [24.6, 24.6, 24.6, 36];
  const tsWidth = [2.0, 2.3, 2.4, 2.4];

  for (let row = 0; row < 4; row++) {
    const { x, obs, sat } = seriesForRow(row);
    // Left: time series
    const li = addPanel(row, leftLefts[row], LEFT_RIGHT, tsX[row], tsY[row], "", "°C", 20, leftNameGap[row], `${scaleNames[row]} | Time Series`);
    series.push({
      type: "line", xAxisIndex: li, yAxisIndex: li, z: 3, silent: true, showSymbol: false, symbol: "none",
      data: sat.map((v, i) => [x[i], v]),
      lineStyle: { color: "#FF0000", width: tsWidth[row], join: "round" },
    });
    series.push({
      type: "line", xAxisIndex: li, yAxisIndex: li, z: 3, silent: true, showSymbol: false, symbol: "none",
      data: obs.map((v, i) => [x[i], v]),
      lineStyle: { color: "#000000", width: tsWidth[row], join: "round" },
    });
    // Right: correlation
    const ri = addPanel(row, rightLefts[row], RIGHT_RIGHT, scX[row], scY[row], "Observed", "Satellite", 20, rightNameGap[row], "Correlation");
    series.push({
      type: "scatter", xAxisIndex: ri, yAxisIndex: ri, z: 3, silent: true, symbolSize: 5.5,
      data: obs.map((v, i) => [v, sat[i]]),
      itemStyle: { color: "rgba(0,0,128,0.5)", opacity: 1 },
    });
    series.push({
      type: "line", xAxisIndex: ri, yAxisIndex: ri, z: 4, silent: true, showSymbol: false, symbol: "none",
      data: fits[row], lineStyle: { color: "#FF0000", width: 1.9 },
    });
    series.push({
      type: "scatter", xAxisIndex: ri, yAxisIndex: ri, z: 5, silent: true, symbolSize: 1,
      itemStyle: { color: "rgba(0,0,0,0)", opacity: 1 },
      data: [rLabelAnchor[row]],
      label: {
        show: true, position: [0, 0], align: "center", verticalAlign: "middle", formatter: correlationLabels[row],
        color: "#8B0000", fontWeight: "bold", fontSize: 17, fontFamily: FONT, textBorderWidth: 0, opacity: 1,
      },
    });
  }

  return { animation: false, backgroundColor: "#FFFFFF", grid, xAxis, yAxis, series, graphic };
}

export default function App() {
  const ref = useRef<HTMLDivElement>(null);
  useEffect(() => {
    document.body.style.margin = "0";
    const chart = echarts.init(ref.current!, null, { renderer: "svg" });
    chart.setOption(buildOption() as any);
    return () => chart.dispose();
  }, []);
  return <div ref={ref} style={{ width: 1184, height: 1177 }} />;
}
